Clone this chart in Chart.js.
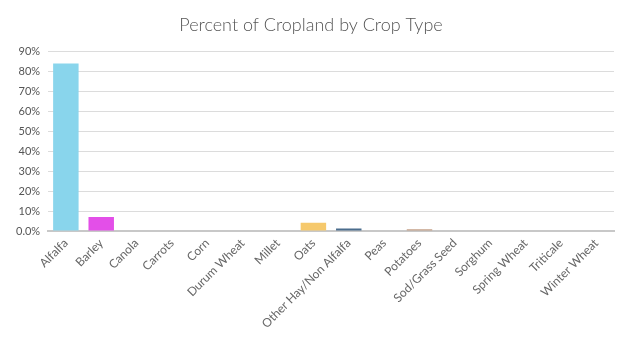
<!DOCTYPE html>
<html>
<head>
<meta charset="utf-8">
<script src="https://cdn.jsdelivr.net/npm/chart.js@4"></script>
<style>
  html, body { margin: 0; padding: 0; background: #fff; }
  #wrap { width: 636px; height: 338px; position: relative; }
</style>
</head>
<body>
<div id="wrap"><canvas id="chart"></canvas></div>
<script>
  /* ─── Data ─── */
  const crops = [
    "Alfalfa", "Barley", "Canola", "Carrots", "Corn", "Durum Wheat", "Millet", "Oats",
    "Other Hay/Non Alfalfa", "Peas", "Potatoes", "Sod/Grass Seed", "Sorghum",
    "Spring Wheat", "Triticale", "Winter Wheat",
  ];
  const percents = [84, 7.1, 0, 0, 0, 0, 0, 4.1, 1.3, 0, 0.9, 0, 0, 0, 0, 0];
  const barColors = [
    "#89d5ec", "#e34fe8", "#ccc", "#ccc", "#ccc", "#ccc", "#ccc", "#f6c96c",
    "#4b6d8d", "#ccc", "#c4a088", "#ccc", "#ccc", "#ccc", "#ccc", "#ccc",
  ];
  const yMax = 90;
  const yStep = 10;

  const FONT = "Lato, 'Open Sans', sans-serif";

  new Chart(document.getElementById("chart").getContext("2d"), {
    type: "bar",
    data: {
      labels: crops,
      datasets: [{
        label: "Percent of Cropland",
        data: percents,
        backgroundColor: barColors,
        borderWidth: 0,
        categoryPercentage: 0.72,
        barPercentage: 1,
      }],
    },
    options: {
      responsive: true,
      maintainAspectRatio: false,
      animation: false,
      layout: { padding: { left: 8, right: 22, top: 6, bottom: 2 } },
      plugins: {
        legend: { display: false },
        tooltip: { enabled: false },
        title: {
          display: true,
          text: "Percent of Cropland by Crop Type",
          color: "#555",
          font: { family: FONT, size: 18, weight: "300" },
          padding: { top: 8, bottom: 16 },
        },
      },
      scales: {
        x: {
          grid: { display: false, drawTicks: false },
          border: { color: "#c8c8c8", width: 2 },
          ticks: {
            color: "#666",
            minRotation: 45,
            maxRotation: 45,
            padding: 5,
            autoSkip: false,
            font: { family: FONT, size: 12 },
          },
        },
        y: {
          min: 0,
          max: yMax,
          ticks: {
            stepSize: yStep,
            color: "#555",
            padding: 8,
            font: { family: FONT, size: 11 },
            callback: (v) => v === 0 ? "0.0%" : `${v}%`,
          },
          grid: { color: "#dcdcdc", drawTicks: false },
          border: { display: false },
        },
      },
    },
  });
</script>
</body>
</html>
